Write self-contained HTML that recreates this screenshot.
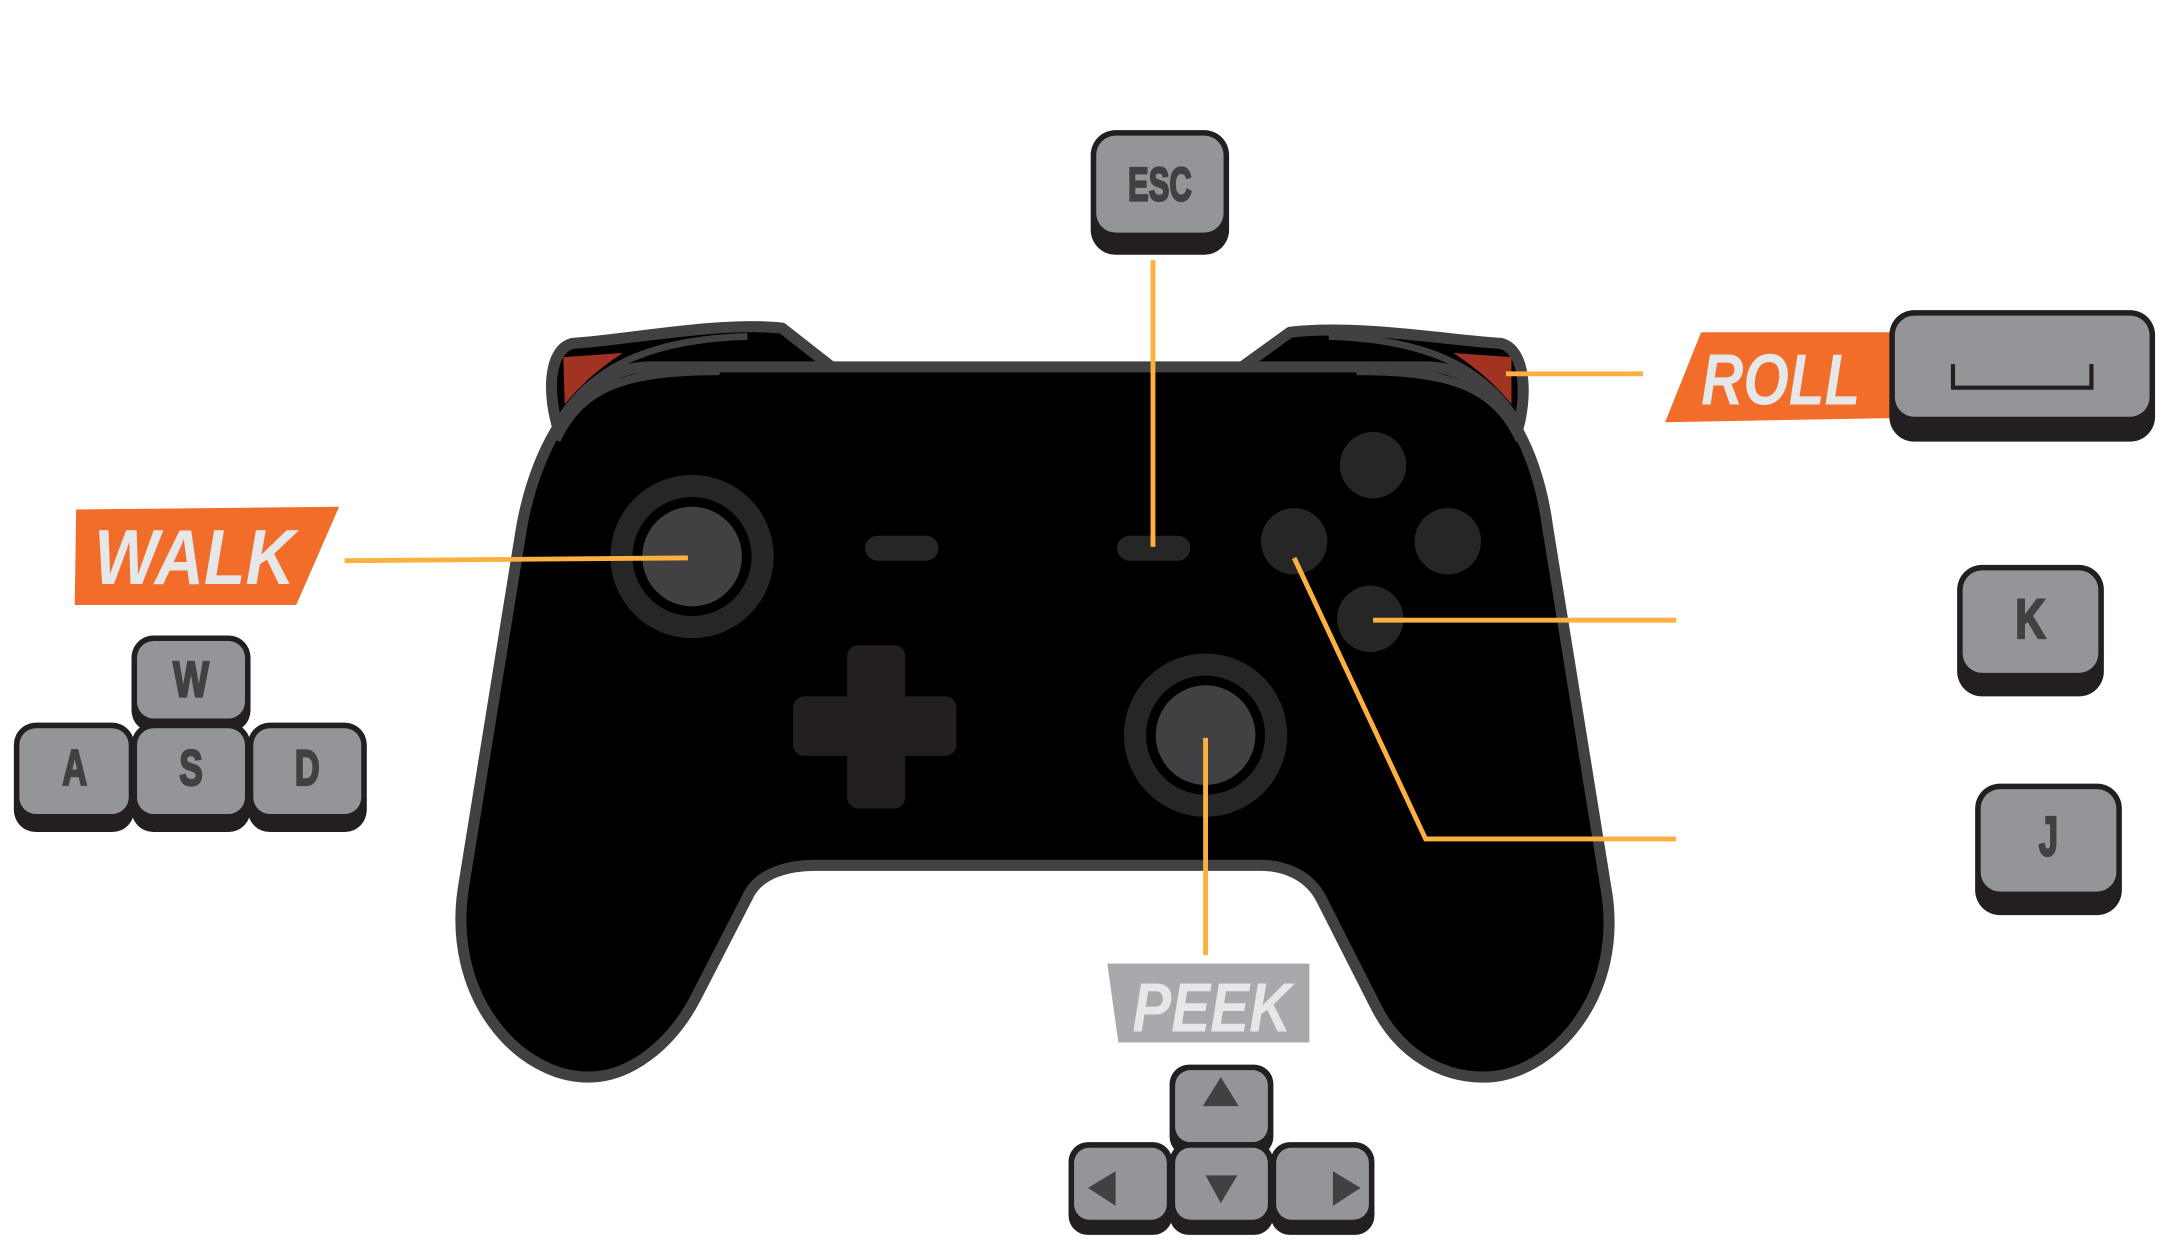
<!DOCTYPE html>
<html><head><meta charset="utf-8"><style>
html,body{margin:0;padding:0;background:#fff;}
svg{display:block;}
.k{font-family:"Liberation Sans",sans-serif;font-weight:bold;fill:#414042;stroke:#414042;stroke-width:1.6;text-anchor:middle;}
.lb{font-family:"Liberation Sans",sans-serif;font-weight:bold;font-style:italic;fill:#e6e7e8;}
</style></head><body>
<svg width="2162" height="1246" viewBox="0 0 1562 900" preserveAspectRatio="none" xmlns="http://www.w3.org/2000/svg">
<rect width="1562" height="900" fill="#fff"/>
<path d="M404 312 C395 285 396 252 414 248 C450 246 520 232 565 237 L602 266 L470 270 Z" fill="#000" stroke="#414042" stroke-width="8" stroke-linejoin="round"/>
<path d="M1096 312 C1104 285 1102 252 1084 248 C1048 246 980 234 932 240 L896 266 L1030 270 Z" fill="#000" stroke="#414042" stroke-width="8" stroke-linejoin="round"/>
<path d="M407 258 L450 255 C430 268 418 280 408 292 Z" fill="#a23322"/>
<path d="M1092 258 L1050 255 C1070 268 1082 280 1092 292 Z" fill="#a23322"/>
<path d="M406 300 C430 265 470 245 540 243 M1094 300 C1070 265 1030 245 960 243" fill="none" stroke="#414042" stroke-width="5"/>
<path d="M470 265 H1030 C1080 265 1110 320 1118 380 L1160 640 C1175 720 1120 778 1072 778 C1040 778 1010 760 993 725 L955 650 C945 630 925 625 910 625 H590 C570 625 548 630 540 648 L503 720 C485 755 455 778 425 778 C375 778 322 720 335 640 L377 380 C388 320 420 265 470 265 Z" fill="#000" stroke="#414042" stroke-width="8"/>
<path d="M402 318 C420 280 450 268 520 268 M1098 318 C1080 280 1050 268 980 268" fill="none" stroke="#414042" stroke-width="6"/>
<circle cx="500" cy="402" r="59" fill="#262626"/><circle cx="500" cy="402" r="43" fill="#000"/><circle cx="500" cy="402" r="36" fill="#414042"/>
<circle cx="871" cy="531" r="59" fill="#262626"/><circle cx="871" cy="531" r="43" fill="#000"/><circle cx="871" cy="531" r="36" fill="#414042"/>
<rect x="625" y="387" width="53" height="18" rx="9" fill="#262626"/>
<rect x="807" y="387" width="53" height="18" rx="9" fill="#262626"/>
<circle cx="992" cy="336" r="24" fill="#262626"/><circle cx="935" cy="391" r="24" fill="#262626"/>
<circle cx="1046" cy="391" r="24" fill="#262626"/><circle cx="990" cy="447" r="24" fill="#262626"/>
<rect x="612" y="466" width="42" height="118" rx="8" fill="#231f20"/>
<rect x="573" y="503" width="118" height="43" rx="8" fill="#231f20"/>
<g stroke="#fbb040" stroke-width="3.5" fill="none">
<path d="M833 188 V395"/><path d="M1088 270 H1187"/><path d="M249 405 L497 403"/>
<path d="M992 448 H1211"/><path d="M935 403 L1030 606 H1211"/><path d="M871 533 V690"/>
</g>
<polygon points="55,368 245,366 214,437 54,437" fill="#f26c2a"/>
<text class="lb" x="68" y="422" font-size="56" textLength="145" lengthAdjust="spacingAndGlyphs">WALK</text>
<polygon points="1229,240 1366,240 1366,302 1203,305" fill="#f26c2a"/>
<text class="lb" x="1229" y="292" font-size="52" textLength="115" lengthAdjust="spacingAndGlyphs">ROLL</text>
<polygon points="800,696 946,696 946,753 808,753" fill="#a7a9ac"/>
<text class="lb" x="818" y="745" font-size="50" textLength="115" lengthAdjust="spacingAndGlyphs">PEEK</text>
<g>
<rect x="95" y="459" width="86" height="70" rx="16" fill="#231f20"/><rect x="99" y="463" width="78" height="56" rx="12" fill="#939598"/>
<rect x="10" y="522" width="87" height="79" rx="16" fill="#231f20"/><rect x="14" y="526" width="79" height="62" rx="12" fill="#939598"/>
<rect x="95" y="522" width="86" height="79" rx="16" fill="#231f20"/><rect x="99" y="526" width="78" height="62" rx="12" fill="#939598"/>
<rect x="179" y="522" width="86" height="79" rx="16" fill="#231f20"/><rect x="183" y="526" width="78" height="62" rx="12" fill="#939598"/>
<rect x="788" y="94" width="100" height="90" rx="18" fill="#231f20"/><rect x="792" y="98" width="92" height="70" rx="14" fill="#939598"/>
<rect x="1365" y="224" width="192" height="95" rx="18" fill="#231f20"/><rect x="1369" y="228" width="184" height="73" rx="14" fill="#939598"/>
<rect x="1414" y="408" width="106" height="95" rx="18" fill="#231f20"/><rect x="1418" y="412" width="98" height="74" rx="14" fill="#939598"/>
<rect x="1427" y="566" width="106" height="95" rx="18" fill="#231f20"/><rect x="1431" y="570" width="98" height="74" rx="14" fill="#939598"/>
<rect x="845" y="769" width="75" height="66" rx="14" fill="#231f20"/><rect x="849" y="773" width="67" height="52" rx="11" fill="#939598"/>
<rect x="772" y="825" width="75" height="67" rx="14" fill="#231f20"/><rect x="776" y="829" width="67" height="52" rx="11" fill="#939598"/>
<rect x="845" y="825" width="75" height="67" rx="14" fill="#231f20"/><rect x="849" y="829" width="67" height="52" rx="11" fill="#939598"/>
<rect x="918" y="825" width="75" height="67" rx="14" fill="#231f20"/><rect x="922" y="829" width="67" height="52" rx="11" fill="#939598"/>
</g>
<text class="k" x="138" y="503" font-size="36" textLength="26" lengthAdjust="spacingAndGlyphs">W</text>
<text class="k" x="54" y="567" font-size="36" textLength="18" lengthAdjust="spacingAndGlyphs">A</text>
<text class="k" x="138" y="567" font-size="36" textLength="17" lengthAdjust="spacingAndGlyphs">S</text>
<text class="k" x="222" y="567" font-size="36" textLength="18" lengthAdjust="spacingAndGlyphs">D</text>
<text class="k" x="838" y="145" font-size="34" textLength="46" lengthAdjust="spacingAndGlyphs">ESC</text>
<text class="k" x="1467" y="461" font-size="40" textLength="22" lengthAdjust="spacingAndGlyphs">K</text>
<text class="k" x="1480" y="618" font-size="40" textLength="14" lengthAdjust="spacingAndGlyphs">J</text>
<path d="M1411 263 V280 H1511 V263" fill="none" stroke="#231f20" stroke-width="3"/>
<g fill="#414042">
<polygon points="882,778 895,799 869,799"/>
<polygon points="786,858 806,846 806,871"/>
<polygon points="871,849 894,849 882,869"/>
<polygon points="983,858 963,846 963,871"/>
</g>
</svg>
</body></html>
